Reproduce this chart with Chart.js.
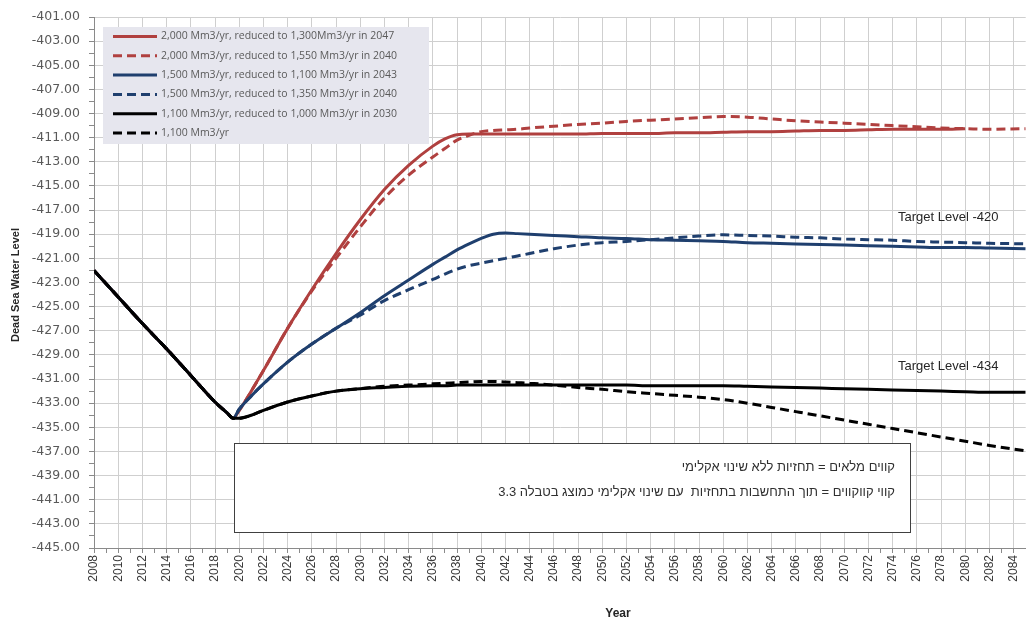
<!DOCTYPE html>
<html>
<head>
<meta charset="utf-8">
<script src="https://cdn.jsdelivr.net/npm/chart.js@4"></script>
<style>
  html, body { margin: 0; padding: 0; background: #fff; overflow: hidden; }
  #wrap { width: 1030px; height: 621px; }
</style>
</head>
<body>
<div id="wrap"><canvas id="levelChart" width="1030" height="621"></canvas></div>
<script>
// years where the curves are sampled
const years = [2008, 2010, 2012, 2014, 2016, 2018, 2019, 2019.5, 2020, 2021, 2022, 2024, 2026, 2028, 2030, 2032, 2034, 2036,
    2037, 2038, 2039, 2040, 2041, 2042, 2043, 2044, 2046, 2048, 2050, 2052, 2054, 2056, 2058, 2060, 2062, 2064, 2066,
    2068, 2070, 2072, 2074, 2076, 2078, 2080, 2082, 2085];

// shared history up to the low point (2008 .. 2019.5)
const history = [-422.0, -424.2, -426.4, -428.5, -430.7, -432.9, -433.8, -434.25];

const red2047 = history.concat([-433.6, -432.0, -430.3, -426.8, -423.6, -420.6, -417.8, -415.3, -413.3, -411.7,
    -411.1, -410.75, -410.7, -410.7, -410.7, -410.7, -410.7, -410.7, -410.7, -410.7, -410.65, -410.65, -410.65, -410.6,
    -410.6, -410.55, -410.5, -410.5, -410.45, -410.4, -410.4, -410.35, -410.3, -410.3, -410.3, -410.25]);

const red2040 = history.concat([-433.6, -432.0, -430.3, -426.8, -423.7, -421.0, -418.4, -416.0, -414.1, -412.6,
    -411.9, -411.2, -410.8, -410.5, -410.4, -410.35, -410.3, -410.2, -410.05, -409.9, -409.8, -409.65, -409.55, -409.45,
    -409.35, -409.25, -409.3, -409.45, -409.6, -409.7, -409.8, -409.9, -410.0, -410.1, -410.2, -410.25, -410.3, -410.25]);

const blue2043 = history.concat([-433.5, -432.4, -431.4, -429.6, -428.1, -426.8, -425.5, -424.1, -422.8, -421.5,
    -420.9, -420.3, -419.8, -419.35, -419.0, -418.9, -418.95, -419.0, -419.1, -419.2, -419.3, -419.35, -419.45, -419.5,
    -419.55, -419.6, -419.7, -419.75, -419.8, -419.85, -419.9, -419.95, -420.0, -420.05, -420.1, -420.1, -420.15, -420.2]);

const blue2040 = history.concat([-433.5, -432.4, -431.4, -429.6, -428.1, -426.8, -425.7, -424.5, -423.6, -422.75,
    -422.3, -421.9, -421.6, -421.4, -421.2, -421.0, -420.8, -420.6, -420.2, -419.9, -419.7, -419.6, -419.45, -419.3,
    -419.15, -419.05, -419.1, -419.15, -419.25, -419.3, -419.4, -419.45, -419.5, -419.6, -419.65, -419.7, -419.75, -419.8]);

const black2030 = history.concat([-434.25, -434.0, -433.6, -432.9, -432.4, -432.0, -431.8, -431.7, -431.6, -431.55,
    -431.55, -431.5, -431.5, -431.5, -431.5, -431.5, -431.5, -431.5, -431.5, -431.5, -431.5, -431.5, -431.55, -431.55,
    -431.55, -431.55, -431.6, -431.65, -431.7, -431.75, -431.8, -431.85, -431.9, -431.95, -432.0, -432.05, -432.1, -432.1]);

const black1100 = history.concat([-434.25, -434.0, -433.6, -432.9, -432.4, -432.0, -431.8, -431.6, -431.5, -431.4,
    -431.35, -431.3, -431.25, -431.2, -431.2, -431.25, -431.3, -431.35, -431.5, -431.7, -431.85, -432.05, -432.2, -432.35,
    -432.5, -432.7, -433.0, -433.35, -433.7, -434.05, -434.4, -434.75, -435.1, -435.45, -435.8, -436.15, -436.5, -436.95]);

const seriesLabels = [
    '2,000 Mm3/yr, reduced to 1,300Mm3/yr in 2047',
    '2,000 Mm3/yr, reduced to 1,550 Mm3/yr in 2040',
    '1,500 Mm3/yr, reduced to 1,100 Mm3/yr in 2043',
    '1,500 Mm3/yr, reduced to 1,350 Mm3/yr in 2040',
    '1,100 Mm3/yr, reduced to 1,000 Mm3/yr in 2030',
    '1,100 Mm3/yr'
];

const xTicks = [];
for (let y = 2008; y <= 2084; y++) xTicks.push(y);

const targetNotes = ['Target Level -420', 'Target Level -434'];
const noteLines = [
    'קווים מלאים = תחזיות ללא שינוי אקלימי',
    'קווי קווקווים = תוך התחשבות בתחזיות  עם שינוי אקלימי כמוצג בטבלה 3.3'
];

const RED = '#b0403f';
const BLUE = '#1f3f6e';
const BLACK = '#000000';
const DASH = [9, 5];

const toPoints = (vals) => vals.map((v, i) => ({ x: years[i], y: v }));

function makeSet(label, values, color, dashed, order) {
    return {
        label: label,
        data: toPoints(values),
        borderColor: color,
        backgroundColor: color,
        borderWidth: 3,
        borderDash: dashed ? DASH : [],
        pointRadius: 0,
        cubicInterpolationMode: 'monotone',
        fill: false,
        order: order
    };
}

// legend box, notes and axis titles drawn on top of the plot
const overlay = {
    id: 'overlay',
    afterDatasetsDraw(chart) {
        const ctx = chart.ctx;
        ctx.save();

        // legend
        ctx.fillStyle = '#e6e6ee';
        ctx.fillRect(103, 27, 326, 117);
        chart.data.datasets.forEach((ds, i) => {
            const yy = 36.5 + i * 19.3;
            ctx.beginPath();
            ctx.setLineDash(ds.borderDash);
            ctx.lineWidth = 3;
            ctx.strokeStyle = ds.borderColor;
            ctx.moveTo(113, yy);
            ctx.lineTo(157, yy);
            ctx.stroke();
            ctx.setLineDash([]);
            ctx.fillStyle = '#5a5a5a';
            ctx.font = '10.5px "Open Sans", sans-serif';
            ctx.textBaseline = 'middle';
            ctx.textAlign = 'left';
            ctx.fillText(ds.label, 161, yy);
        });

        // target labels
        ctx.fillStyle = '#262626';
        ctx.font = '13px "Liberation Sans", Arial, sans-serif';
        ctx.textAlign = 'left';
        ctx.textBaseline = 'middle';
        ctx.fillText(targetNotes[0], 898, 217);
        ctx.fillText(targetNotes[1], 898, 366);

        // note box
        ctx.fillStyle = '#ffffff';
        ctx.fillRect(234, 443, 676, 89);
        ctx.strokeStyle = '#404040';
        ctx.lineWidth = 1;
        ctx.strokeRect(234.5, 443.5, 676, 89);
        ctx.fillStyle = '#303030';
        ctx.font = '13px "Liberation Sans", "DejaVu Sans", sans-serif';
        ctx.direction = 'rtl';
        ctx.textAlign = 'right';
        ctx.fillText(noteLines[0], 895, 467);
        ctx.fillText(noteLines[1], 895, 492);
        ctx.direction = 'ltr';

        // axis titles
        ctx.fillStyle = '#262626';
        ctx.font = 'bold 12px "Liberation Sans", Arial, sans-serif';
        ctx.textAlign = 'center';
        ctx.fillText('Year', 618, 614);
        ctx.translate(16, 285);
        ctx.rotate(-Math.PI / 2);
        ctx.font = 'bold 11px "Liberation Sans", Arial, sans-serif';
        ctx.fillText('Dead Sea Water Level', 0, 0);
        ctx.restore();
    }
};

const gridGray = '#cfcfcf';
const axisGray = '#8a8a8a';

new Chart(document.getElementById('levelChart'), {
    type: 'line',
    data: {
        datasets: [
            makeSet(seriesLabels[0], red2047, RED, false, 3),
            makeSet(seriesLabels[1], red2040, RED, true, 4),
            makeSet(seriesLabels[2], blue2043, BLUE, false, 1),
            makeSet(seriesLabels[3], blue2040, BLUE, true, 2),
            makeSet(seriesLabels[4], black2030, BLACK, false, 0),
            makeSet(seriesLabels[5], black1100, BLACK, true, 0)
        ]
    },
    options: {
        responsive: false,
        animation: false,
        layout: { padding: { top: 17, right: 0, left: 0, bottom: 0 } },
        plugins: {
            legend: { display: false },
            tooltip: { enabled: false }
        },
        scales: {
            x: {
                type: 'linear',
                min: 2008,
                max: 2085,
                afterBuildTicks: (scale) => {
                    scale.ticks = xTicks.map((v) => ({ value: v }));
                },
                afterFit: (scale) => { scale.height = 73; },
                grid: {
                    color: (c) => (c.tick && c.tick.value % 2 === 0) ? gridGray : 'rgba(0,0,0,0)',
                    tickColor: axisGray,
                    tickLength: 5,
                    lineWidth: 1
                },
                border: { color: axisGray },
                ticks: {
                    autoSkip: false,
                    minRotation: 90,
                    maxRotation: 90,
                    padding: 2,
                    color: '#3a3a3a',
                    font: { family: '"Liberation Sans", Arial, sans-serif', size: 12 },
                    callback: (v) => (v % 2 === 0 ? String(v) : '')
                }
            },
            y: {
                min: -445,
                max: -401,
                afterFit: (scale) => { scale.width = 94; },
                grid: {
                    color: (c) => (c.tick && Math.abs(c.tick.value) % 2 === 1) ? gridGray : 'rgba(0,0,0,0)',
                    tickColor: axisGray,
                    tickLength: 5,
                    lineWidth: 1
                },
                border: { color: axisGray },
                ticks: {
                    stepSize: 1,
                    autoSkip: false,
                    padding: 9,
                    color: '#595959',
                    font: { family: '"DejaVu Sans", sans-serif', size: 12.5 },
                    callback: (v) => (Math.abs(v) % 2 === 1 ? v.toFixed(2) : '')
                }
            }
        }
    },
    plugins: [overlay]
});
</script>
</body>
</html>
